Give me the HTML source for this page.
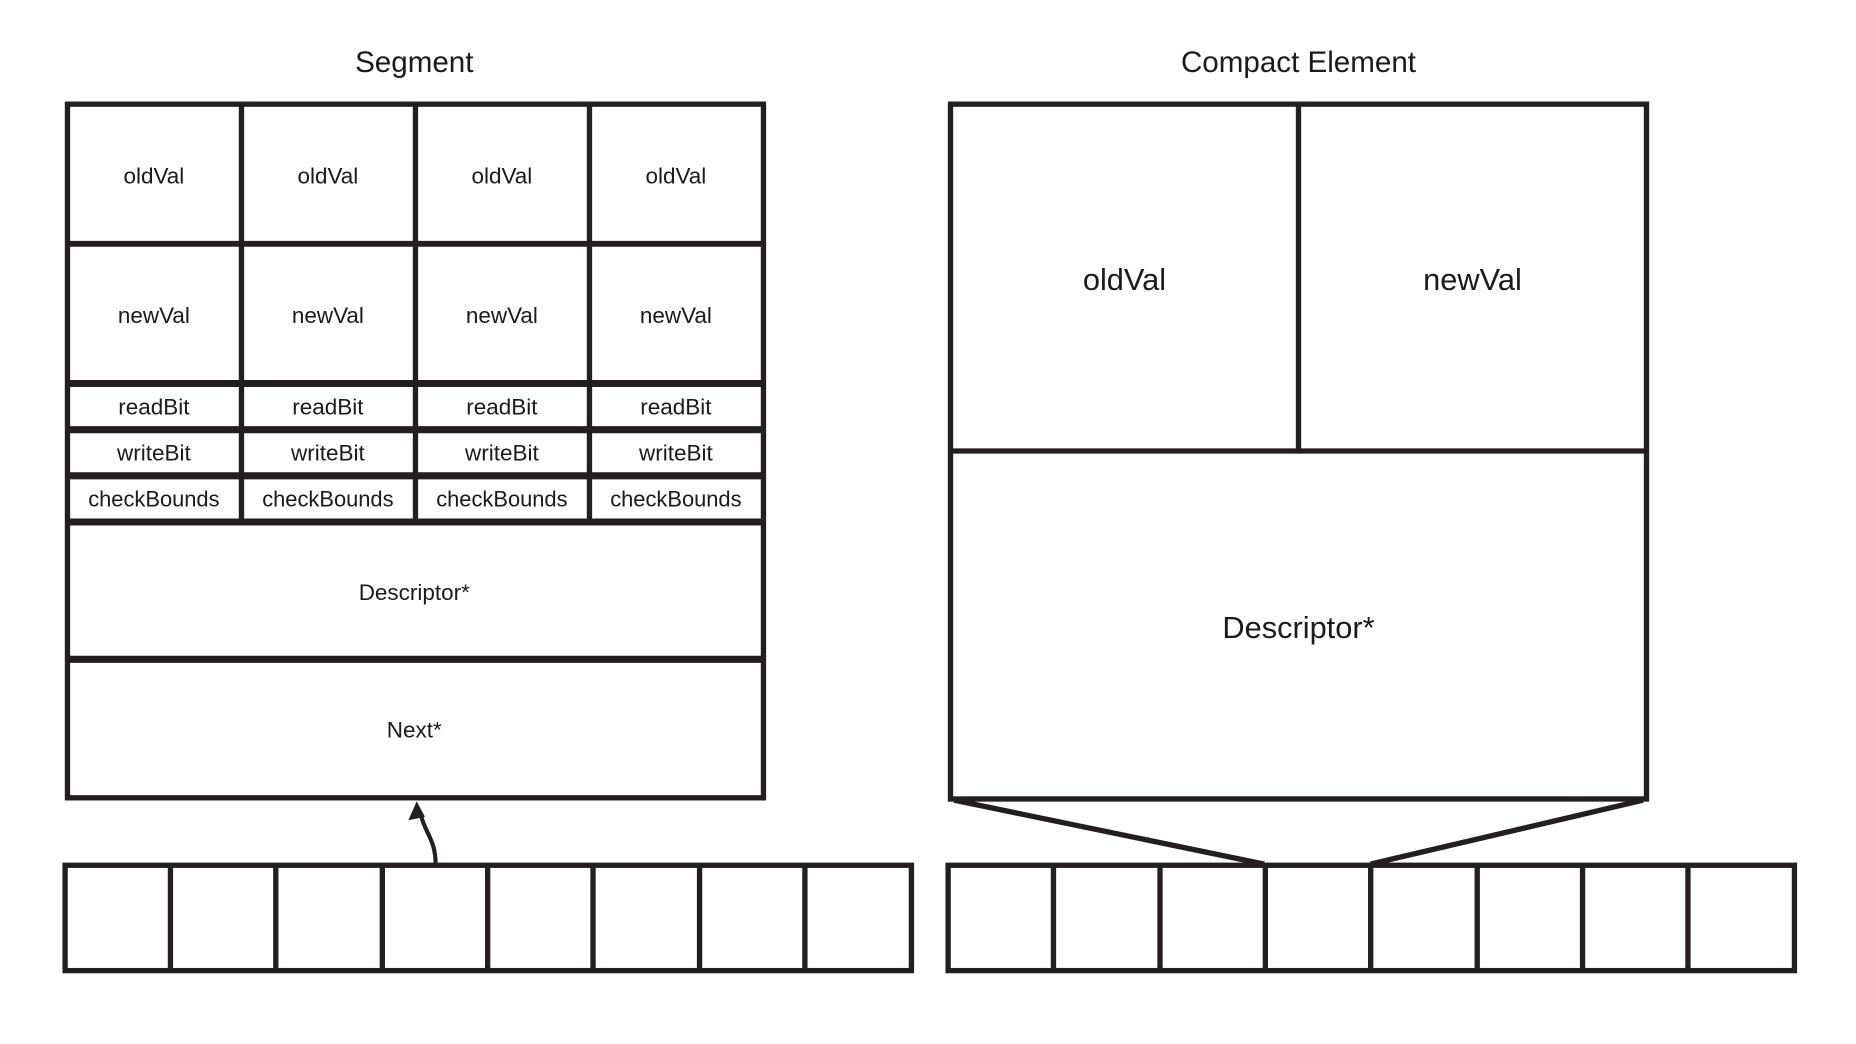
<!DOCTYPE html>
<html><head><style>html,body{margin:0;padding:0;background:#fff;}svg{display:block}</style></head>
<body>
<svg width="1856" height="1044" viewBox="0 0 1568 882" preserveAspectRatio="none" xmlns="http://www.w3.org/2000/svg" font-family="Liberation Sans, sans-serif" fill="#1a1a1a">
<g stroke="#231f20" stroke-width="4.5" fill="none">
<rect x="57" y="88" width="588" height="586"/>
<line x1="204" y1="88" x2="204" y2="441"/>
<line x1="351" y1="88" x2="351" y2="441"/>
<line x1="498" y1="88" x2="498" y2="441"/>
<line x1="57" y1="206" x2="645" y2="206" stroke-width="5"/>
<line x1="57" y1="324" x2="645" y2="324" stroke-width="6"/>
<line x1="57" y1="363" x2="645" y2="363" stroke-width="6"/>
<line x1="57" y1="402" x2="645" y2="402" stroke-width="6"/>
<line x1="57" y1="441" x2="645" y2="441" stroke-width="6"/>
<line x1="57" y1="557" x2="645" y2="557" stroke-width="6"/>
<rect x="803" y="88" width="588" height="587"/>
<line x1="1097" y1="88" x2="1097" y2="381"/>
<line x1="803" y1="381" x2="1391" y2="381"/>
<line x1="806" y1="676" x2="1068" y2="730"/>
<line x1="1388" y1="676" x2="1158" y2="730"/>
<rect x="55" y="731" width="715" height="89"/>
<line x1="144" y1="731" x2="144" y2="820"/><line x1="233" y1="731" x2="233" y2="820"/><line x1="323" y1="731" x2="323" y2="820"/><line x1="412" y1="731" x2="412" y2="820"/><line x1="501" y1="731" x2="501" y2="820"/><line x1="591" y1="731" x2="591" y2="820"/><line x1="680" y1="731" x2="680" y2="820"/>
<rect x="801" y="731" width="715" height="89"/>
<line x1="890" y1="731" x2="890" y2="820"/><line x1="980" y1="731" x2="980" y2="820"/><line x1="1069" y1="731" x2="1069" y2="820"/><line x1="1158" y1="731" x2="1158" y2="820"/><line x1="1248" y1="731" x2="1248" y2="820"/><line x1="1337" y1="731" x2="1337" y2="820"/><line x1="1426" y1="731" x2="1426" y2="820"/>
<path d="M368 730 C368 710 360 705 356 690" stroke-width="3.5"/>
</g>
<polygon points="352,677 345,693 359,690" fill="#231f20"/>
<g text-anchor="middle" font-size="25">
<text x="350" y="61">Segment</text>
<text x="1097" y="61">Compact Element</text>
</g>
<g text-anchor="middle" font-size="19">
<text x="130" y="155">oldVal</text><text x="277" y="155">oldVal</text><text x="424" y="155">oldVal</text><text x="571" y="155">oldVal</text>
<text x="130" y="273">newVal</text><text x="277" y="273">newVal</text><text x="424" y="273">newVal</text><text x="571" y="273">newVal</text>
<text x="130" y="350">readBit</text><text x="277" y="350">readBit</text><text x="424" y="350">readBit</text><text x="571" y="350">readBit</text>
<text x="130" y="389">writeBit</text><text x="277" y="389">writeBit</text><text x="424" y="389">writeBit</text><text x="571" y="389">writeBit</text>
<text x="130" y="428" font-size="18.5">checkBounds</text><text x="277" y="428" font-size="18.5">checkBounds</text><text x="424" y="428" font-size="18.5">checkBounds</text><text x="571" y="428" font-size="18.5">checkBounds</text>
<text x="350" y="507">Descriptor*</text>
<text x="350" y="623">Next*</text>
</g>
<g text-anchor="middle" font-size="26">
<text x="950" y="245">oldVal</text>
<text x="1244" y="245">newVal</text>
<text x="1097" y="539">Descriptor*</text>
</g>
</svg>
</body></html>
